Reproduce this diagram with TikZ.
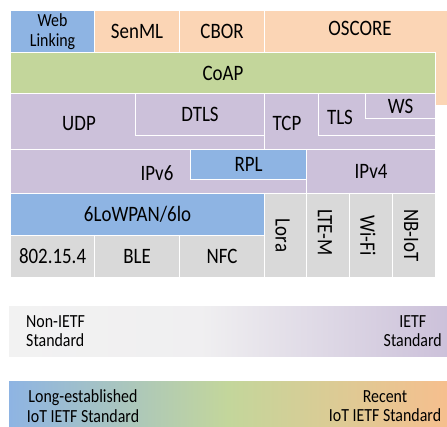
\documentclass[tikz,border=0pt]{standalone}
\usepackage{fontspec}
\setmainfont[FakeStretch=0.86]{Carlito}
\usetikzlibrary{positioning}
\definecolor{linkblue}{HTML}{8EB4E3}
\definecolor{appeach}{HTML}{FBD5B5}
\definecolor{coapgreen}{HTML}{C3D69B}
\definecolor{ietfpurple}{HTML}{CCC1DA}
\definecolor{phygray}{HTML}{D9D9D9}
\definecolor{legendgray}{HTML}{F2F2F2}
\definecolor{recentorange}{HTML}{F6BF8E}
% the path spans 25bp..75bp of a declared shading
\pgfdeclarehorizontalshading{agegrad}{100bp}{color(0bp)=(linkblue); color(25bp)=(linkblue); color(50bp)=(coapgreen); color(75bp)=(recentorange); color(100bp)=(recentorange)}
\pgfdeclarehorizontalshading{ietfgrad}{100bp}{color(0bp)=(legendgray); color(25bp)=(legendgray); color(47bp)=(legendgray!94!ietfpurple); color(75bp)=(ietfpurple); color(100bp)=(ietfpurple)}

\begin{document}
\begin{tikzpicture}[
    x=1pt, y=-1pt, % pixel-like units, y grows downward
    layer/.style={draw=white, line width=1.1pt, anchor=north west, inner sep=0pt,
        font=\fontsize{22}{24}\selectfont},
    txt/.style={font=\fontsize{22}{24}\selectfont, inner sep=0pt},
    small/.style={font=\fontsize{18.5}{19.5}\selectfont, align=center, inner sep=0pt},
    bar/.style={anchor=north west, inner sep=0pt, minimum width=438pt}
]
\clip (0,0) rectangle (447,426);

% Application layer
\node[layer, fill=linkblue, minimum width=84pt, minimum height=42pt, small] (weblink) at (10,10) {Web\\Linking};
\node[layer, fill=appeach, minimum width=85pt, minimum height=42pt] (senml) at (94,10) {SenML};
\node[layer, fill=appeach, minimum width=85pt, minimum height=42pt] (cbor) at (179,10) {CBOR};
\node[layer, fill=appeach, minimum width=206pt, minimum height=95pt] (oscore) at (264,10) {};
\node[txt] (oscorelbl) at (360,28) {OSCORE};
\node[layer, fill=coapgreen, minimum width=425pt, minimum height=41pt] (coap) at (10,52) {CoAP};

% Transport layer
\node[layer, fill=ietfpurple, minimum width=254pt, minimum height=56pt] (udp) at (10,93) {};
\node[txt] (udplbl) at (79,124) {UDP};
\node[layer, fill=ietfpurple, minimum width=129pt, minimum height=42pt] (dtls) at (135,93) {DTLS};
\node[layer, fill=ietfpurple, minimum width=171pt, minimum height=56pt] (tcp) at (264,93) {};
\node[txt] (tcplbl) at (287,123) {TCP};
\node[layer, fill=ietfpurple, minimum width=117pt, minimum height=42pt] (tls) at (318,93) {};
\node[txt] (tlslbl) at (340,117) {TLS};
\node[layer, fill=ietfpurple, minimum width=70pt, minimum height=25pt] (ws) at (365,93) {WS};

% Network layer
\node[layer, fill=ietfpurple, minimum width=296pt, minimum height=44pt] (ipvsix) at (10,149) {};
\node[txt] (ipvsixlbl) at (157,173) {IPv6};
\node[layer, fill=linkblue, minimum width=116pt, minimum height=30pt] (rpl) at (190,149) {RPL};
\node[layer, fill=ietfpurple, minimum width=129pt, minimum height=44pt] (ipvfour) at (306,149) {IPv4};

% Adaptation and link layer
\node[layer, fill=linkblue, minimum width=254pt, minimum height=42pt] (sixlo) at (10,193) {6LoWPAN/6lo};
\node[layer, fill=phygray, minimum width=84pt, minimum height=42pt] (ieee) at (10,235) {802.15.4};
\node[layer, fill=phygray, minimum width=85pt, minimum height=42pt] (ble) at (94,235) {BLE};
\node[layer, fill=phygray, minimum width=85pt, minimum height=42pt] (nfc) at (179,235) {NFC};
\node[layer, fill=phygray, minimum width=42pt, minimum height=84pt] (lora) at (264,193) {};
\node[layer, fill=phygray, minimum width=43pt, minimum height=84pt] (ltem) at (306,193) {};
\node[layer, fill=phygray, minimum width=43pt, minimum height=84pt] (wifi) at (349,193) {};
\node[layer, fill=phygray, minimum width=43pt, minimum height=84pt] (nbiot) at (392,193) {};
\node[txt, rotate=-90] (loralbl) at ([xshift=-3pt]lora.center) {Lora};
\node[txt, rotate=-90] (ltemlbl) at ([xshift=-3pt,yshift=3pt]ltem.center) {LTE-M};
\node[txt, rotate=-90] (wifilbl) at ([xshift=-3pt]wifi.center) {Wi-Fi};
\node[txt, rotate=-90] (nbiotlbl) at ([xshift=-3pt]nbiot.center) {NB-IoT};

% Legend
\node[bar, minimum height=50pt, shading=ietfgrad] (ietfbar) at (9,306) {};
\node[small, align=left, anchor=west] (nonietf) at (26,331) {Non-IETF\\Standard};
\node[small, anchor=east] (ietf) at (442,331) {IETF\\Standard};
\node[bar, minimum height=45pt, shading=agegrad] (agebar) at (9,381) {};
\node[small] (longest) at (83,406) {Long-established\\IoT IETF Standard};
\node[small] (recent) at (385,406) {Recent\\IoT IETF Standard};
\end{tikzpicture}
\end{document}
